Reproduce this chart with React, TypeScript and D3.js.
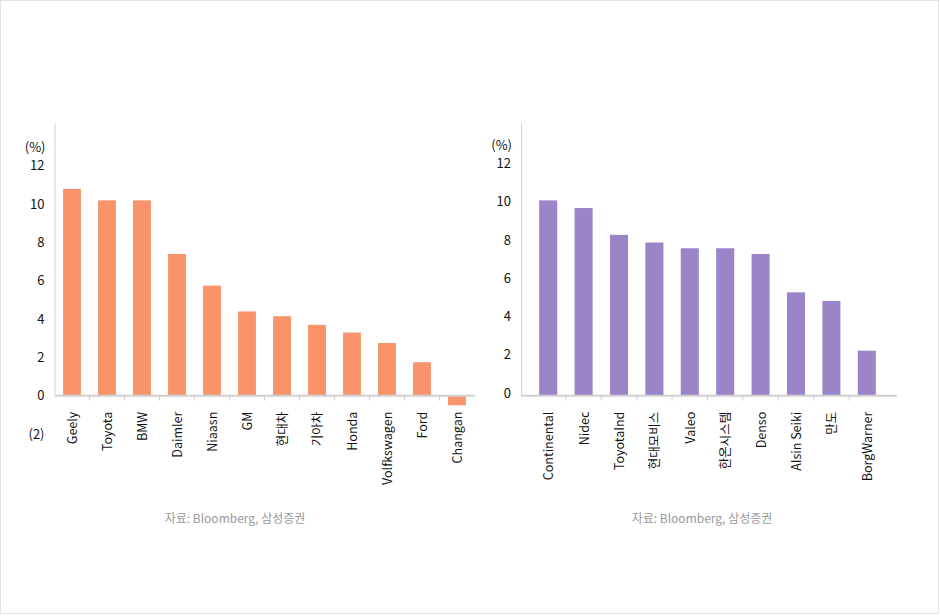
import { useEffect, useRef } from 'react'
import * as d3 from 'd3'

const carMakers = ['Geely', 'Toyota', 'BMW', 'Daimler', 'Niaasn', 'GM', '현대차', '기아차', 'Honda', 'Volfkswagen', 'Ford', 'Changan']
const carMakerValues = [10.8, 10.2, 10.2, 7.4, 5.75, 4.4, 4.15, 3.7, 3.3, 2.75, 1.75, -0.5]
const carTicks = [-2, 0, 2, 4, 6, 8, 10, 12]

const partMakers = ['Continental', 'Nidec', 'ToyotaInd', '현대모비스', 'Valeo', '한온시스템', 'Denso', 'AIsin Seiki', '만도', 'BorgWarner']
const partMakerValues = [10.2, 9.8, 8.4, 8.0, 7.7, 7.7, 7.4, 5.4, 4.95, 2.35]
const partTicks = [0, 2, 4, 6, 8, 10, 12]

const source = '자료: Bloomberg, 삼성증권'
const font = '"Noto Sans CJK KR", "Noto Sans", sans-serif'

interface Panel {
  cats: string[]
  vals: number[]
  ticks: number[]
  color: string
  axisX: number
  bandStart: number
  bandEnd: number
  lineEnd: number
  labelX: number
  labelDy: number
  sourceX: number
}

export default function App() {
  const ref = useRef<SVGSVGElement>(null)

  useEffect(() => {
    if (!ref.current) return
    const svg = d3.select(ref.current)
    svg.selectAll('*').remove()

    svg.append('rect')
      .attr('x', 0.5).attr('y', 0.5)
      .attr('width', 938).attr('height', 613)
      .attr('fill', '#fff')
      .attr('stroke', '#e2e2e2')

    // zero at 395.7, 19.15px per unit
    const y = d3.scaleLinear().domain([-2, 14]).range([434, 127.6])

    const draw = (p: Panel) => {
      const x = d3.scaleBand<string>()
        .domain(p.cats)
        .range([p.bandStart, p.bandEnd])
        .paddingInner(0.49)
        .paddingOuter(0.245)
      const step = x.step()
      const g = svg.append('g')

      // y axis line
      g.append('line')
        .attr('x1', p.axisX).attr('x2', p.axisX)
        .attr('y1', y(14) - 4).attr('y2', y(0))
        .attr('stroke', '#d4d4d4').attr('stroke-width', 1)

      g.selectAll('rect.bar')
        .data(p.cats)
        .enter().append('rect')
        .attr('class', 'bar')
        .attr('x', d => x(d)!)
        .attr('width', x.bandwidth())
        .attr('y', (_, i) => y(Math.max(0, p.vals[i])))
        .attr('height', (_, i) => Math.abs(y(p.vals[i]) - y(0)))
        .attr('fill', p.color)

      // x axis line + ticks
      g.append('line')
        .attr('x1', p.axisX).attr('x2', p.lineEnd)
        .attr('y1', y(0)).attr('y2', y(0))
        .attr('stroke', '#d0d0d0').attr('stroke-width', 2)

      g.selectAll('line.tick')
        .data(p.cats.slice(1))
        .enter().append('line')
        .attr('class', 'tick')
        .attr('x1', d => x(d)! - (step - x.bandwidth()) / 2)
        .attr('x2', d => x(d)! - (step - x.bandwidth()) / 2)
        .attr('y1', y(0)).attr('y2', y(0) + 5)
        .attr('stroke', '#d0d0d0')

      g.selectAll('text.cat')
        .data(p.cats)
        .enter().append('text')
        .attr('class', 'cat')
        .attr('transform', d => `translate(${x(d)! + x.bandwidth() / 2 + 5},${y(0) + 16}) rotate(-90)`)
        .attr('text-anchor', 'end')
        .attr('font-family', font)
        .attr('font-size', 12.5)
        .attr('fill', '#111')
        .text(d => d)

      g.selectAll('text.ytick')
        .data(p.ticks)
        .enter().append('text')
        .attr('class', 'ytick')
        .attr('x', p.labelX)
        .attr('y', d => y(d) + p.labelDy)
        .attr('dy', '0.35em')
        .attr('text-anchor', 'end')
        .attr('font-family', font)
        .attr('font-size', 13)
        .attr('fill', '#111')
        .text(d => (d < 0 ? `(${Math.abs(d)})` : `${d}`))

      g.append('text')
        .attr('x', p.labelX + 1)
        .attr('y', y(14) + 20 + p.labelDy)
        .attr('dy', '0.35em')
        .attr('text-anchor', 'end')
        .attr('font-family', font)
        .attr('font-size', 13)
        .attr('fill', '#111')
        .text('(%)')

      g.append('text')
        .attr('x', p.sourceX)
        .attr('y', 519)
        .attr('dy', '0.35em')
        .attr('text-anchor', 'middle')
        .attr('font-family', font)
        .attr('font-size', 12)
        .attr('fill', '#9a9a9a')
        .text(source)
    }

    draw({
      cats: carMakers, vals: carMakerValues, ticks: carTicks, color: '#f9936c',
      axisX: 55, bandStart: 54.5, bandEnd: 474.5, lineEnd: 475,
      labelX: 44.5, labelDy: 0, sourceX: 235,
    })
    draw({
      cats: partMakers, vals: partMakerValues, ticks: partTicks, color: '#9b85c9',
      axisX: 521.5, bandStart: 530.5, bandEnd: 884.5, lineEnd: 897,
      labelX: 511, labelDy: -2.5, sourceX: 702,
    })
  }, [])

  return (
    <svg
      ref={ref}
      width={940}
      height={616}
      style={{ position: 'absolute', left: 0, top: 0, display: 'block' }}
    />
  )
}
